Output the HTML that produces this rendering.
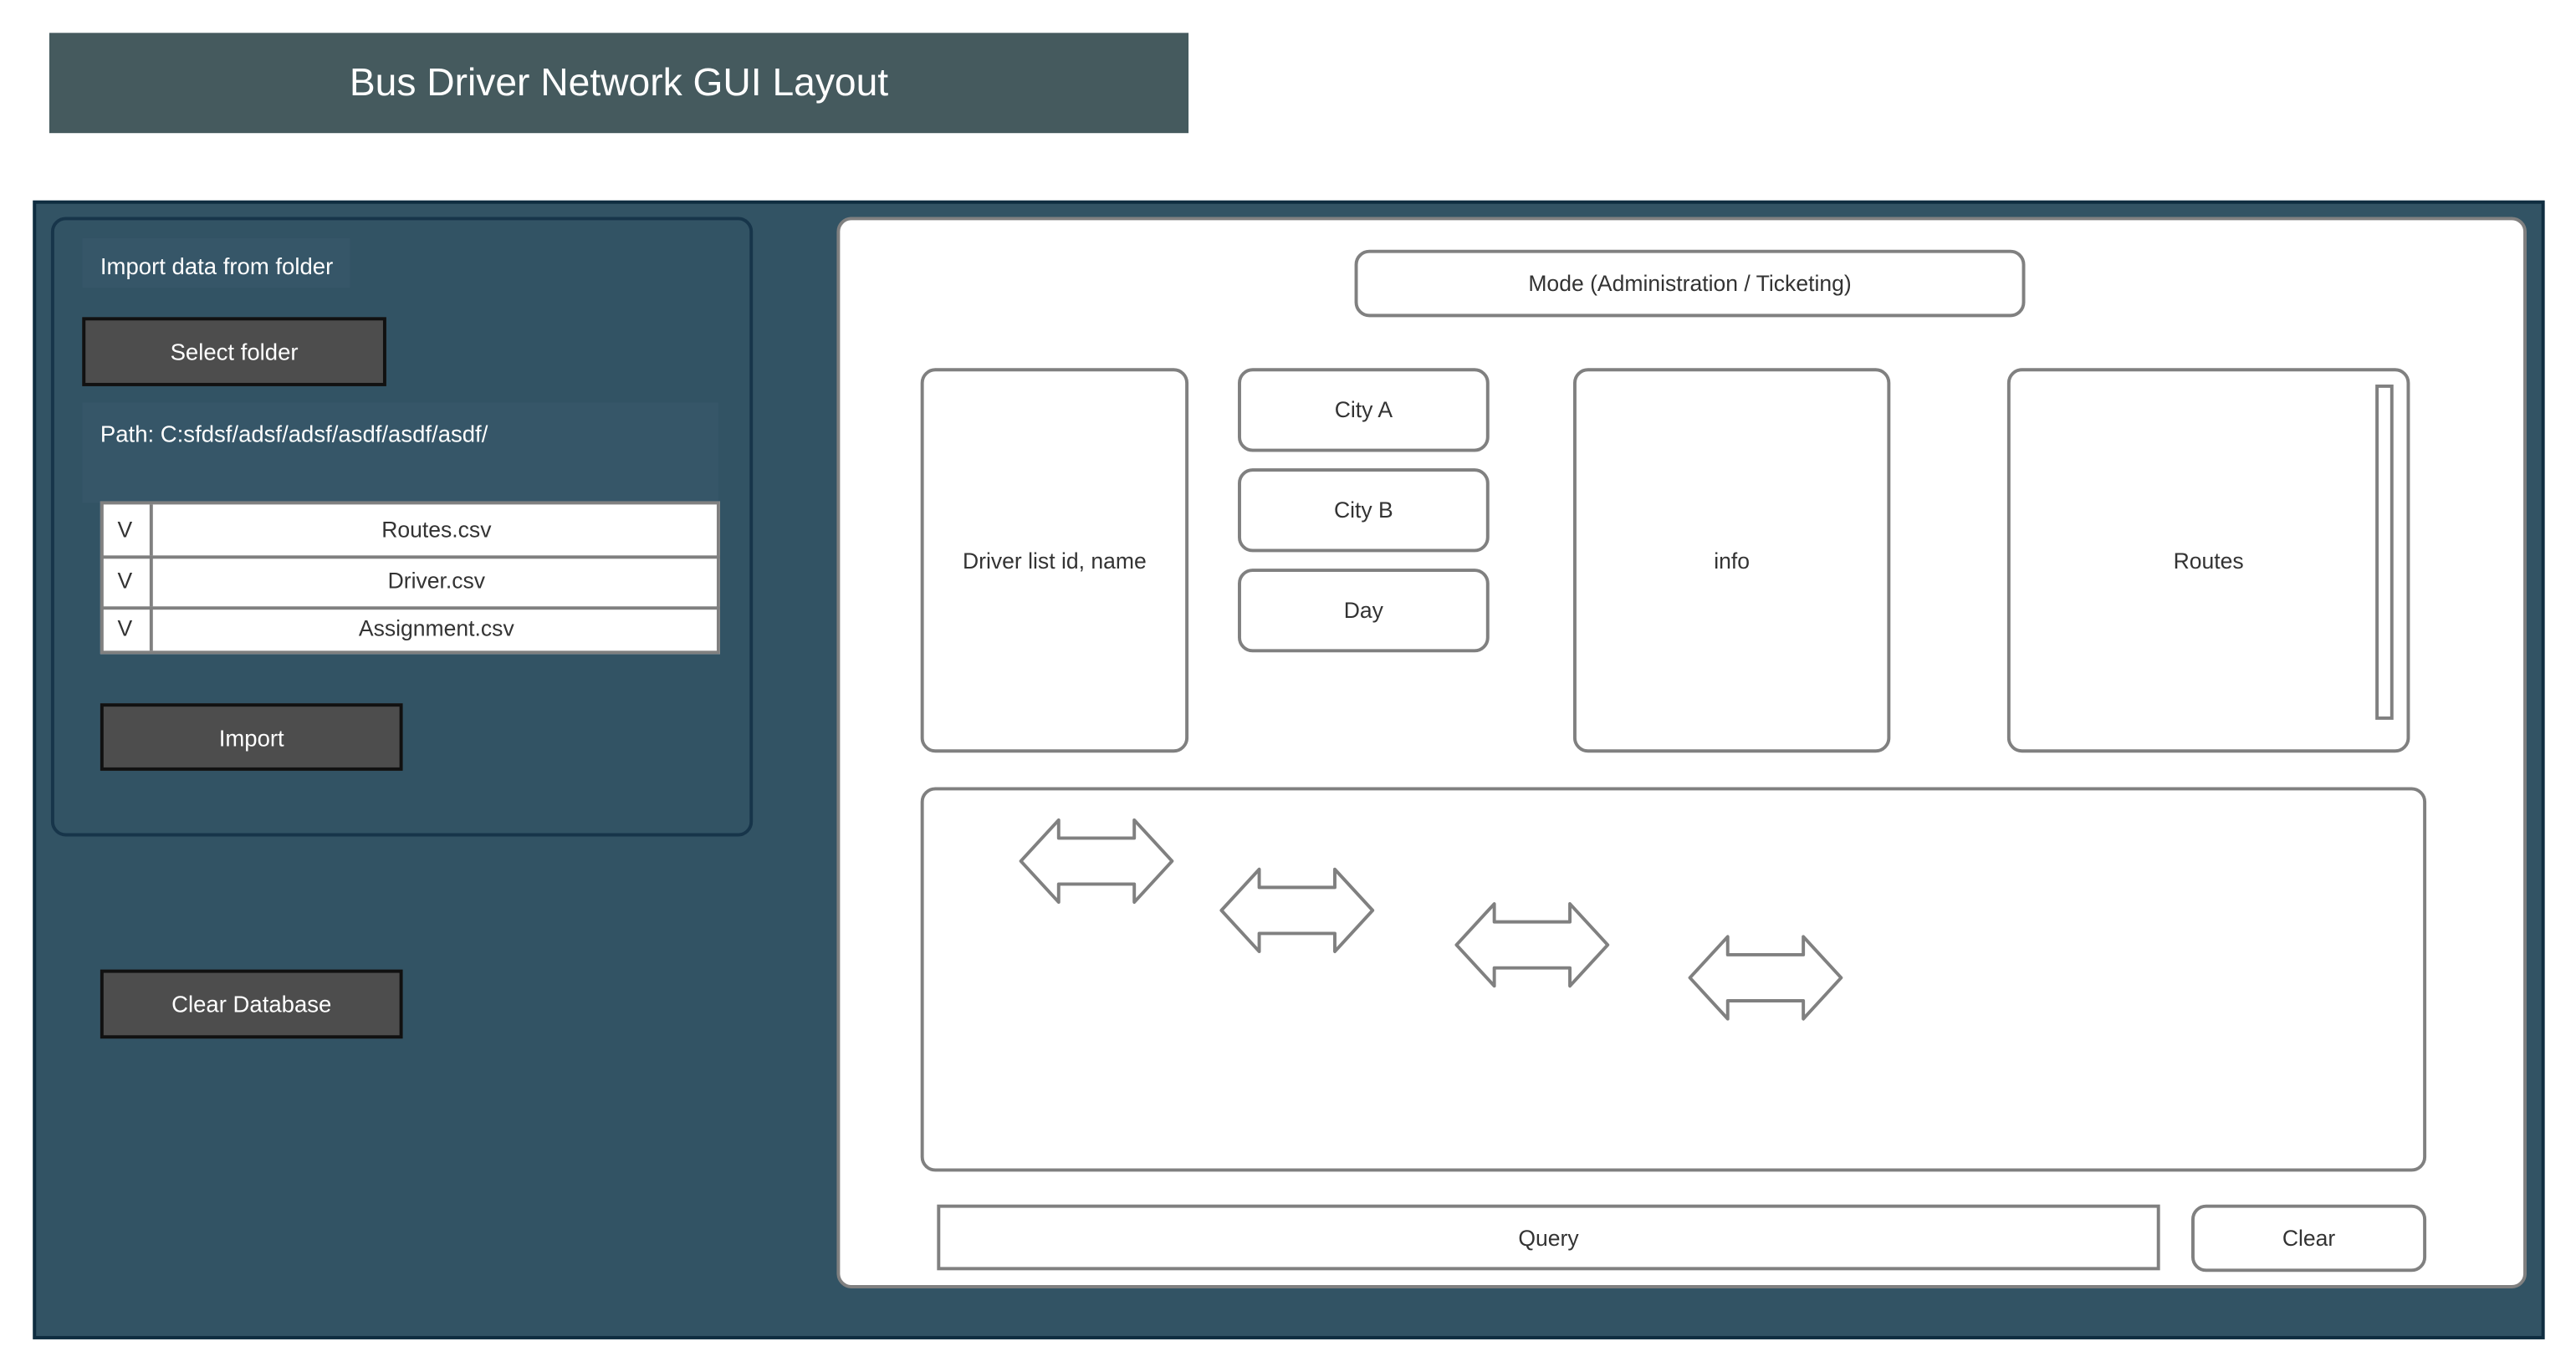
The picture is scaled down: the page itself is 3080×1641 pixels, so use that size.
<!DOCTYPE html>
<html><head><meta charset="utf-8"><style>
html,body{margin:0;padding:0;background:#fff;width:3080px;height:1640px;overflow:hidden}
#w{position:absolute;left:0;top:0;width:1568px;height:835px;transform:scale(1.9655);transform-origin:0 0;font-family:"Liberation Sans",sans-serif}
.a{position:absolute;box-sizing:border-box}
.c{display:flex;align-items:center;justify-content:center;text-align:center}
.wb{background:#fff;border:2px solid #808080;border-radius:9px;color:#333;font-size:13.5px}
.btn{background:#4d4d4d;border:2px solid #111;color:#fff;font-size:14px}
.row{position:absolute;left:0;width:377px;height:31px;display:flex;font-size:13.5px;color:#333}
.row .v{width:30px;border-right:2px solid #808080;display:flex;align-items:center;justify-content:center}
.row .n{flex:1;display:flex;align-items:center;justify-content:center}
</style></head><body><div id="w">
<div class="a c" style="left:30px;top:20px;width:693px;height:61px;background:#455a5e;color:#fff;font-size:23.5px">Bus Driver Network GUI Layout</div>
<div class="a" style="left:20px;top:122px;width:1528px;height:693px;background:#325364;border:2px solid #0f2d40"></div>
<div class="a" style="left:31px;top:132px;width:427px;height:377px;border:2px solid #17354a;border-radius:9px"></div>
<div class="a" style="left:50px;top:145px;width:163px;height:30px;background:#365668;color:#fff;font-size:14px;padding:9px 0 0 11px">Import data from folder</div>
<div class="a c btn" style="left:50px;top:193px;width:185px;height:42px">Select folder</div>
<div class="a" style="left:50px;top:245px;width:387px;height:61px;background:#365668;color:#fff;font-size:14px;padding:11px 0 0 11px">Path: C:sfdsf/adsf/adsf/asdf/asdf/asdf/</div>
<div class="a" style="left:61px;top:305px;width:377px;height:93px;background:#fff;border:2px solid #808080">
 <div class="row" style="top:0;left:-2px;width:377px;border-bottom:2px solid #808080"><div class="v">V</div><div class="n">Routes.csv</div></div>
 <div class="row" style="top:31px;left:-2px;width:377px;border-bottom:2px solid #808080"><div class="v">V</div><div class="n">Driver.csv</div></div>
 <div class="row" style="top:62px;left:-2px;width:377px;height:27px"><div class="v">V</div><div class="n">Assignment.csv</div></div>
</div>
<div class="a c btn" style="left:61px;top:428px;width:184px;height:41px">Import</div>
<div class="a c btn" style="left:61px;top:590px;width:184px;height:42px">Clear Database</div>
<div class="a" style="left:509px;top:132px;width:1028px;height:652px;background:#fff;border:2px solid #808080;border-radius:9px"></div>
<div class="a c wb" style="left:824px;top:152px;width:408px;height:41px">Mode (Administration / Ticketing)</div>
<div class="a c wb" style="left:560px;top:224px;width:163px;height:234px">Driver list id, name</div>
<div class="a c wb" style="left:753px;top:224px;width:153px;height:51px">City A</div>
<div class="a c wb" style="left:753px;top:285px;width:153px;height:51px">City B</div>
<div class="a c wb" style="left:753px;top:346px;width:153px;height:51px">Day</div>
<div class="a c wb" style="left:957px;top:224px;width:193px;height:234px">info</div>
<div class="a c wb" style="left:1221px;top:224px;width:245px;height:234px">Routes</div>
<div class="a" style="left:1445px;top:234px;width:11px;height:204px;border:2px solid #808080"></div>
<div class="a wb" style="left:560px;top:479px;width:916px;height:234px"></div>
<svg class="a" style="left:0;top:0" width="1568" height="835">
<g fill="#fff" stroke="#808080" stroke-width="2" stroke-linejoin="round">
<polygon transform="translate(621,499)" points="0,25 23,0 23,11 69,11 69,0 92,25 69,50 69,39 23,39 23,50"/>
<polygon transform="translate(743,529)" points="0,25 23,0 23,11 69,11 69,0 92,25 69,50 69,39 23,39 23,50"/>
<polygon transform="translate(886,550)" points="0,25 23,0 23,11 69,11 69,0 92,25 69,50 69,39 23,39 23,50"/>
<polygon transform="translate(1028,570)" points="0,25 23,0 23,11 69,11 69,0 92,25 69,50 69,39 23,39 23,50"/>
</g></svg>
<div class="a c" style="left:570px;top:733px;width:744px;height:40px;border:2px solid #808080;background:#fff;color:#333;font-size:13.5px">Query</div>
<div class="a c wb" style="left:1333px;top:733px;width:143px;height:41px">Clear</div>
</div></body></html>
